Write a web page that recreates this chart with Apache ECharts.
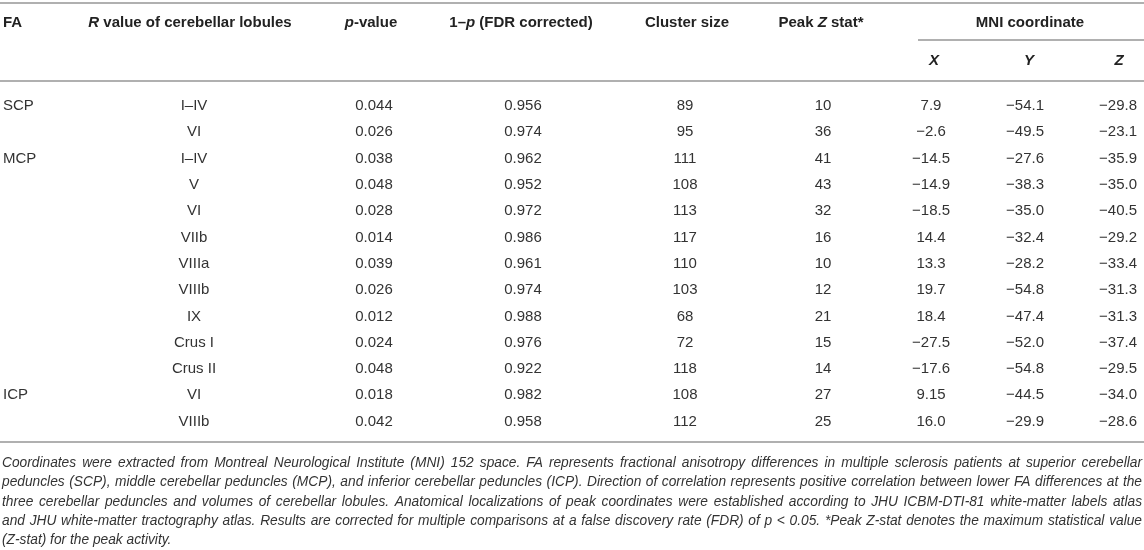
<!DOCTYPE html>
<html>
<head>
<meta charset="utf-8">
<title>Cerebellar peduncles FA table</title>
<script src="https://cdn.jsdelivr.net/npm/echarts@6/dist/echarts.min.js"></script>
<style>
  html, body { margin: 0; padding: 0; background: #fff; }
  #main { width: 1144px; height: 550px; }
</style>
</head>
<body>
<div id="main"></div>
<script>
// table data, one array per column
var faGroups = ['SCP', '', 'MCP', '', '', '', '', '', '', '', '', 'ICP', ''];
var lobules = ['I–IV', 'VI', 'I–IV', 'V', 'VI', 'VIIb', 'VIIIa', 'VIIIb', 'IX', 'Crus I', 'Crus II', 'VI', 'VIIIb'];
var pValues = ['0.044', '0.026', '0.038', '0.048', '0.028', '0.014', '0.039', '0.026', '0.012', '0.024', '0.048', '0.018', '0.042'];
var fdrValues = ['0.956', '0.974', '0.962', '0.952', '0.972', '0.986', '0.961', '0.974', '0.988', '0.976', '0.922', '0.982', '0.958'];
var clusterSize = [89, 95, 111, 108, 113, 117, 110, 103, 68, 72, 118, 108, 112];
var peakZ = [10, 36, 41, 43, 32, 16, 10, 12, 21, 15, 14, 27, 25];
var mniX = ['7.9', '−2.6', '−14.5', '−14.9', '−18.5', '14.4', '13.3', '19.7', '18.4', '−27.5', '−17.6', '9.15', '16.0'];
var mniY = ['−54.1', '−49.5', '−27.6', '−38.3', '−35.0', '−32.4', '−28.2', '−54.8', '−47.4', '−52.0', '−54.8', '−44.5', '−29.9'];
var mniZ = ['−29.8', '−23.1', '−35.9', '−35.0', '−40.5', '−29.2', '−33.4', '−31.3', '−31.3', '−37.4', '−29.5', '−34.0', '−28.6'];

// header labels ({i|..} = italic part)
var headerTop = ['FA', '{i|R} value of cerebellar lobules', '{i|p}-value', '1–{i|p} (FDR corrected)',
  'Cluster size', 'Peak {i|Z} stat*', 'MNI coordinate'];
var headerSub = ['{i|X}', '{i|Y}', '{i|Z}'];

var footnote = [
  'Coordinates were extracted from Montreal Neurological Institute (MNI) 152 space. FA represents fractional anisotropy differences in multiple sclerosis patients at superior cerebellar',
  'peduncles (SCP), middle cerebellar peduncles (MCP), and inferior cerebellar peduncles (ICP). Direction of correlation represents positive correlation between lower FA differences at the',
  'three cerebellar peduncles and volumes of cerebellar lobules. Anatomical localizations of peak coordinates were established according to JHU ICBM-DTI-81 white-matter labels atlas',
  'and JHU white-matter tractography atlas. Results are corrected for multiple comparisons at a false discovery rate (FDR) of p < 0.05. *Peak Z-stat denotes the maximum statistical value',
  '(Z-stat) for the peak activity.'
];

var FONT = '"Liberation Sans", Arial, Helvetica, sans-serif';
var INK = '#333';
var HEAD = '#222';
var RULE = '#b0b0b0';
var W = 1144;

// layout
var rowTop = 106, rowH = 26.3;
var nRows = lobules.length;
var headY = 23, subY = 61;
var lastRowY = rowTop + (nRows - 1) * rowH;

var columns = [
  { cells: faGroups, x: 3, align: 'left' },
  { cells: lobules, x: 194 },
  { cells: pValues, x: 374 },
  { cells: fdrValues, x: 523 },
  { cells: clusterSize, x: 685 },
  { cells: peakZ, x: 823 },
  { cells: mniX, x: 931 },
  { cells: mniY, x: 1025 },
  { cells: mniZ, x: 1118 }
];
var headerTopX = [3, 190, 371, 521, 687, 821, 1030];
var headerSubX = [934, 1029, 1119];

var myChart = echarts.init(document.getElementById('main'));

var graphics = [];
function rule(x1, y, x2) {
  graphics.push({ type: 'line', shape: { x1: x1, y1: y, x2: x2, y2: y },
    style: { stroke: RULE, lineWidth: 2 }, silent: true });
}
function headText(txt, x, y, align) {
  graphics.push({ type: 'text', x: x, y: y, silent: true,
    style: {
      text: txt, font: 'bold 15px ' + FONT, fill: HEAD,
      align: align || 'center', verticalAlign: 'middle',
      textAlign: align || 'center', textVerticalAlign: 'middle',
      rich: {
        i: { fontStyle: 'italic', fontWeight: 'bold', fontSize: 15, fontFamily: FONT, fill: HEAD }
      }
    } });
}

// rules
rule(0, 3, W);
rule(918, 40, W);
rule(0, 81, W);
rule(0, lastRowY + 20.5, W);

headerTop.forEach(function (t, i) { headText(t, headerTopX[i], headY, i === 0 ? 'left' : 'center'); });
headerSub.forEach(function (t, i) { headText(t, headerSubX[i], subY); });

// footnote, justified like the source
var ctx = document.createElement('canvas').getContext('2d');
var noteSize = 14;
function natural(line) { return ctx.measureText(line).width; }
do {
  ctx.font = 'italic ' + noteSize + 'px ' + FONT;
  var widest = Math.max.apply(null, footnote.slice(0, -1).map(natural));
  if (widest <= W - 6) break;
  noteSize -= 0.25;
} while (noteSize > 10);
var noteFont = 'italic ' + noteSize + 'px ' + FONT;
ctx.font = noteFont;
var noteTop = lastRowY + 41.5, noteH = 19.3;
footnote.forEach(function (line, li) {
  var y = noteTop + li * noteH;
  var words = line.split(' ');
  var widths = words.map(function (w) { return ctx.measureText(w).width; });
  var sum = widths.reduce(function (a, b) { return a + b; }, 0);
  var last = li === footnote.length - 1;
  var gap = last ? ctx.measureText(' ').width : (W - 4 - sum) / (words.length - 1);
  var x = 2;
  words.forEach(function (w, wi) {
    graphics.push({ type: 'text', x: x, y: y, silent: true,
      style: { text: w, font: noteFont, fill: INK, align: 'left', verticalAlign: 'middle',
        textAlign: 'left', textVerticalAlign: 'middle' } });
    x += widths[wi] + gap;
  });
});

var rowIds = lobules.map(function (d, i) { return String(i); });

var option = {
  animation: false,
  backgroundColor: '#fff',
  grid: { left: 0, right: 0, top: rowTop - rowH / 2, height: rowH * nRows },
  xAxis: { type: 'value', min: 0, max: W, show: false },
  yAxis: { type: 'category', data: rowIds, inverse: true, show: false },
  graphic: graphics,
  series: columns.map(function (col) {
    return {
      type: 'custom',
      silent: true,
      data: col.cells.map(function (v, i) { return [col.x, i]; }),
      renderItem: function (params, api) {
        var p = api.coord([api.value(0), api.value(1)]);
        return {
          type: 'text', x: p[0], y: p[1],
          style: {
            text: String(col.cells[params.dataIndex]),
            font: '15px ' + FONT, fill: INK,
            align: col.align || 'center', verticalAlign: 'middle',
            textAlign: col.align || 'center', textVerticalAlign: 'middle'
          }
        };
      }
    };
  })
};

myChart.setOption(option);
</script>
</body>
</html>
